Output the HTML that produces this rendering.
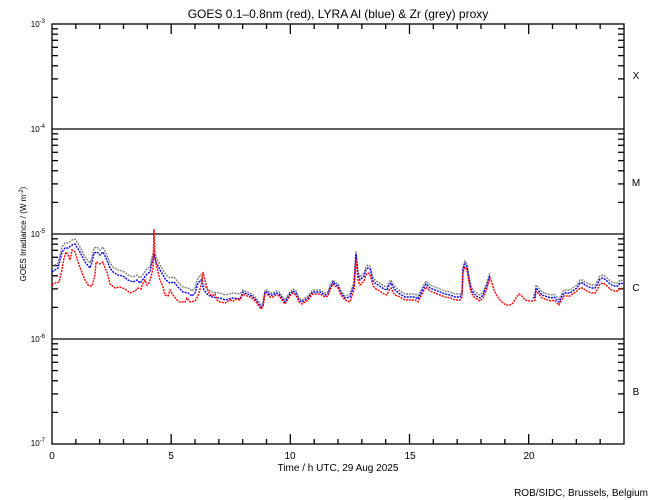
<!DOCTYPE html>
<html><head><meta charset="utf-8"><style>
body{margin:0;background:#fff;}
svg{display:block;font-family:"Liberation Sans",sans-serif;}
</style></head><body>
<svg id="s" width="650" height="500" xmlns="http://www.w3.org/2000/svg">
<rect width="650" height="500" fill="#fff"/>
<text x="338" y="18" font-size="12" text-anchor="middle">GOES 0.1–0.8nm (red), LYRA Al (blue) &amp; Zr (grey) proxy</text>
<g id="ax" stroke="#000" stroke-width="1.3" fill="none"></g>
<g id="data" fill="none" stroke-width="1.4"></g>
<g font-size="8" text-anchor="end">
<text x="45" y="27">10<tspan font-size="6" dy="-4">-3</tspan></text>
<text x="45" y="132">10<tspan font-size="6" dy="-4">-4</tspan></text>
<text x="45" y="237">10<tspan font-size="6" dy="-4">-5</tspan></text>
<text x="45" y="342">10<tspan font-size="6" dy="-4">-6</tspan></text>
<text x="45" y="446">10<tspan font-size="6" dy="-4">-7</tspan></text>
</g>
<g font-size="10" text-anchor="middle">
<text x="636" y="79">X</text><text x="636" y="186">M</text><text x="636" y="291">C</text><text x="636" y="395">B</text>
<text x="52" y="459">0</text><text x="171" y="459">5</text><text x="290" y="459">10</text><text x="410" y="459">15</text><text x="529" y="459">20</text>
<text x="338" y="471">Time / h UTC, 29 Aug 2025</text>
</g>
<text x="648" y="496" font-size="10" text-anchor="end">ROB/SIDC, Brussels, Belgium</text>
<text transform="translate(26,234) rotate(-90)" font-size="8" text-anchor="middle">GOES Irradiance / (W m<tspan font-size="6" dy="-3">-2</tspan><tspan dy="3">)</tspan></text>
</svg>
<script>
const ax=document.getElementById('ax'),L=52,R=624,T=24,B=444,D=105;
let h='<rect x="52" y="24" width="572" height="420"/>';
[129,234,339].forEach(y=>h+=`<line x1="${L}" x2="${R}" y1="${y}" y2="${y}"/>`);
for(let d=0;d<4;d++)for(let k=2;k<10;k++){const y=T+D*(d+1)-D*Math.log10(k);h+=`<line x1="${L}" x2="${L+6}" y1="${y}" y2="${y}"/><line x1="${R-6}" x2="${R}" y1="${y}" y2="${y}"/>`;}
for(let i=1;i<24;i++){const x=L+i*572/24,l=i%5==0?10:5;h+=`<line x1="${x}" x2="${x}" y1="${B}" y2="${B-l}"/><line x1="${x}" x2="${x}" y1="${T}" y2="${T+l}"/>`;}
ax.innerHTML=h;
const red=[[52,285],[55,283],[59,282],[62,270],[64,258],[66,252],[68,255],[70,260],[72,250],[75,252],[78,262],[81,270],[85,280],[88,285],[90,286],[92,286],[95,275],[96,262],[100,264],[103,262],[105,268],[107,272],[110,284],[115,288],[120,287],[125,289],[130,293],[135,291],[138,288],[141,289],[143,283],[145,280],[147,285],[149,283],[151,277],[153,268],[154,229],[155,259],[157,268],[160,280],[163,287],[165,295],[168,296],[170,290],[173,295],[177,300],[180,302],[185,302],[187,298],[190,302],[195,301],[198,296],[200,289],[202,282],[203,272],[204,276],[207,288],[209,293],[212,296],[215,294],[217,300],[220,302],[225,303],[230,300],[233,301],[236,299],[240,300],[243,294],[247,296],[250,297],[253,299],[256,302],[258,305],[261,309],[263,307],[265,294],[267,294],[270,297],[273,297],[276,295],[279,296],[282,300],[285,304],[288,299],[290,296],[293,293],[296,295],[299,302],[302,304],[305,302],[308,300],[311,296],[313,294],[316,294],[320,294],[325,297],[328,296],[330,290],[333,284],[335,286],[338,288],[341,295],[345,300],[350,302],[354,290],[356,259],[358,280],[360,285],[362,283],[364,281],[366,275],[368,273],[370,274],[373,286],[376,289],[378,290],[381,292],[384,294],[387,295],[389,290],[391,288],[393,292],[395,295],[400,297],[405,300],[410,300],[415,300],[418,302],[420,298],[423,292],[426,287],[430,291],[435,293],[440,295],[445,297],[450,298],[455,300],[460,300],[462,297],[463,272],[465,267],[467,270],[469,282],[471,292],[474,297],[478,300],[480,301],[483,298],[485,293],[487,288],[490,278],[492,283],[494,290],[497,296],[500,300],[503,303],[506,305],[510,305],[513,303],[516,298],[519,294],[522,296],[525,300],[530,301],[533,301],[535,300],[536,291],[538,293],[542,298],[545,299],[548,300],[551,301],[554,300],[557,303],[559,305],[561,301],[564,296],[567,296],[570,296],[574,293],[577,291],[580,288],[583,288],[585,290],[589,292],[592,293],[595,293],[597,290],[600,284],[603,283],[606,285],[610,289],[612,290],[615,291],[618,291],[620,288],[624,289]];
const blueEarly=[[52,272],[58,268],[62,252],[65,248],[68,248],[72,245],[75,244],[80,252],[85,262],[90,268],[92,262],[94,253],[97,252],[100,255],[103,252],[106,258],[110,268],[113,272],[118,275],[123,276],[128,280],[133,282],[137,280],[140,283],[144,278],[147,274],[150,272],[152,262],[154,255],[156,262],[160,270],[163,275],[166,280],[170,283],[174,282],[178,287],[183,292],[188,293],[192,296],[195,293],[198,283],[201,280],[204,290],[208,295],[212,297],[220,298],[225,300],[233,298],[240,299]];
function off(x){if(x<350)return 2;if(x<400)return 5;if(x<533)return 3;if(x<580)return 3;return 5;}
function gap(x){return x>490&&x<533;}
function segs(pts){let out=[],cur=[];pts.forEach(p=>{if(p===null){if(cur.length)out.push(cur);cur=[];}else cur.push(p);});if(cur.length)out.push(cur);return out;}
let blue=blueEarly.slice(),grey=blueEarly.map(p=>[p[0],p[1]-5]);
red.filter(p=>p[0]>240).forEach(p=>{if(gap(p[0])){blue.push(null);grey.push(null);return;}const o=off(p[0]);blue.push([p[0],p[1]-o]);grey.push([p[0],p[1]-o-(p[0]<350?2:3)]);});
function pl(pts,c){return segs(pts).map(s=>`<polyline stroke="${c}" stroke-dasharray="2 1" points="${s.map(p=>p.join(',')).join(' ')}"/>`).join('');}
document.getElementById('data').innerHTML=pl(grey,'#808080')+pl(blue,'#0000ff')+pl(red,'#ff0000');
</script>
</body></html>
